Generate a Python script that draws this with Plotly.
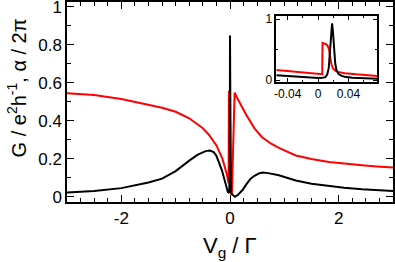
import plotly.graph_objects as go

# ---- main panel data ----
g_x = [-3.0, -2.5, -2.0, -1.5, -1.25, -1.0, -0.75, -0.6, -0.45, -0.37, -0.3, -0.25,
       -0.15, -0.08, -0.04, -0.015, -0.004, 0.0, 0.004, 0.015, 0.04, 0.09, 0.15,
       0.23, 0.3, 0.38, 0.45, 0.53, 0.6, 0.7, 0.9, 1.21, 1.5, 1.82, 2.1, 2.43, 2.7, 3.0]
g_y = [0.022, 0.03, 0.045, 0.075, 0.095, 0.135, 0.19, 0.22, 0.24, 0.243, 0.235, 0.215,
       0.14, 0.07, 0.025, 0.02, 0.12, 0.848, 0.12, 0.02, 0.012, 0.0, 0.01,
       0.035, 0.065, 0.095, 0.11, 0.122, 0.127, 0.124, 0.113, 0.085, 0.068, 0.055, 0.047, 0.039, 0.034, 0.03]

a_x = [-3.0, -2.5, -2.0, -1.5, -1.25, -1.0, -0.75, -0.5, -0.385, -0.25, -0.14, -0.06,
       -0.025, -0.02, -0.005, 0.005, 0.02, 0.035, 0.085, 0.15, 0.29, 0.45, 0.59,
       0.75, 0.9, 1.21, 1.5, 1.82, 2.1, 2.43, 2.7, 3.0]
a_y = [0.545, 0.535, 0.514, 0.483, 0.468, 0.447, 0.413, 0.36, 0.325, 0.27, 0.2, 0.12,
       0.07, 0.557, 0.55, 0.3, 0.02, 0.01, 0.548, 0.51, 0.435, 0.36, 0.313,
       0.28, 0.257, 0.217, 0.198, 0.182, 0.173, 0.165, 0.159, 0.153]

# ---- inset data ----
ig_x = [-0.055, -0.04, -0.022, -0.01, 0.0, 0.006, 0.0095, 0.012, 0.014, 0.0157, 0.0172,
        0.0184, 0.0196, 0.021, 0.0225, 0.024, 0.027, 0.031, 0.035, 0.045, 0.06, 0.078]
ig_y = [0.08, 0.065, 0.05, 0.042, 0.037, 0.04, 0.05, 0.09, 0.2, 0.49, 0.78,
        0.93, 0.78, 0.49, 0.28, 0.17, 0.1, 0.07, 0.055, 0.04, 0.03, 0.022]

ia_x = [-0.055, -0.04, -0.02, 0.0, 0.0054, 0.0058, 0.009, 0.011, 0.013, 0.0145, 0.016,
        0.0175, 0.0197, 0.023, 0.026, 0.035, 0.05, 0.065, 0.078]
ia_y = [0.165, 0.15, 0.13, 0.105, 0.097, 0.61, 0.6, 0.585, 0.55, 0.49, 0.37,
        0.26, 0.19, 0.15, 0.136, 0.115, 0.095, 0.08, 0.068]

main_xticks = [-2, 0, 2]
main_xtext = ["-2", "0", "2"]
main_yticks = [0, 0.2, 0.4, 0.6, 0.8, 1.0]
main_ytext = ["0", "0.2", "0.4", "0.6", "0.8", "1"]
in_xticks = [-0.04, 0, 0.04]
in_xtext = ["-0.04", "0", "0.04"]
in_yticks = [0, 1]
in_ytext = ["0", "1"]

FONT = "Liberation Sans, Arial, sans-serif"

fig = go.Figure()
fig.add_trace(go.Scatter(x=a_x, y=a_y, mode="lines", line=dict(color="#ff0000", width=2),
                         xaxis="x", yaxis="y", showlegend=False))
fig.add_trace(go.Scatter(x=g_x, y=g_y, mode="lines", line=dict(color="black", width=2),
                         xaxis="x", yaxis="y", showlegend=False))
fig.add_trace(go.Scatter(x=ia_x, y=ia_y, mode="lines", line=dict(color="#ff0000", width=2),
                         xaxis="x2", yaxis="y2", showlegend=False))
fig.add_trace(go.Scatter(x=ig_x, y=ig_y, mode="lines", line=dict(color="black", width=2),
                         xaxis="x2", yaxis="y2", showlegend=False))

ax_common = dict(showline=True, linecolor="black", linewidth=1.5, mirror="ticks",
                 ticks="inside", tickcolor="black", showgrid=False, zeroline=False,
                 automargin=False, ticklabeloverflow="allow")

fig.update_layout(
    template="none",
    width=395, height=262,
    margin=dict(l=67, r=2, t=2, b=60, pad=0),
    paper_bgcolor="white", plot_bgcolor="white",
    font=dict(family=FONT, color="black"),
    xaxis=dict(range=[-3, 3], tickvals=main_xticks, ticktext=main_xtext,
               ticklen=7, tickwidth=1.2, tickfont=dict(size=17),
               minor=dict(dtick=0.25, tick0=0, ticks="inside", ticklen=4, tickcolor="black", tickwidth=1),
               **ax_common),
    yaxis=dict(range=[-0.028, 1.025], tickvals=main_yticks, ticktext=main_ytext,
               ticklen=7, tickwidth=1.2, tickfont=dict(size=17),
               minor=dict(dtick=0.1, tick0=0, ticks="inside", ticklen=4, tickcolor="black", tickwidth=1),
               **ax_common),
    xaxis2=dict(domain=[0.642, 0.951], anchor="y2", range=[-0.055, 0.0775],
                tickvals=in_xticks, ticktext=in_xtext, ticklen=4, tickwidth=1,
                tickfont=dict(size=12),
                minor=dict(dtick=0.02, tick0=0, ticks="inside", ticklen=2, tickcolor="black"),
                **ax_common),
    yaxis2=dict(domain=[0.6, 0.93], anchor="x2", range=[-0.03, 1.05],
                tickvals=in_yticks, ticktext=in_ytext, ticklen=4, tickwidth=1,
                tickfont=dict(size=12),
                minor=dict(dtick=0.5, tick0=0, ticks="inside", ticklen=2, tickcolor="black"),
                **ax_common),
    annotations=[
        dict(text="G / e<sup>2</sup>h<sup>-1</sup>, α / 2π", textangle=-90,
             xref="paper", yref="paper", x=-0.155, y=0.57, xanchor="center", yanchor="middle",
             showarrow=False, font=dict(size=20)),
        dict(text="V<sub>g</sub> / Γ", xref="paper", yref="paper", x=0.5, y=-0.145,
             xanchor="center", yanchor="top", showarrow=False, font=dict(size=22)),
    ],
)

fig.write_html("out.html", config={"displayModeBar": False},
               post_script="document.body.style.margin='0';")
